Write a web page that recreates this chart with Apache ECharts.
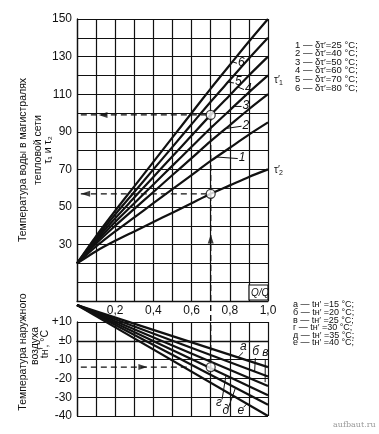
<!DOCTYPE html>
<html><head><meta charset="utf-8">
<script src="https://cdn.jsdelivr.net/npm/echarts@6/dist/echarts.min.js"></script>
<style>html,body{margin:0;padding:0;background:#fff}#c{width:379px;height:434px}</style>
</head><body><div id="c"></div>
<script>
// ---- data ----
const Q = [0, 0.1, 0.2, 0.3, 0.4, 0.5, 0.6, 0.7, 0.8, 0.9, 1.0];
const tau1_1 = [20, 29, 37, 44.5, 52, 59.5, 67, 74.5, 81.5, 88.5, 95];   // δτ'=25
const tau1_2 = [20, 30.5, 40, 49, 58, 67, 76, 85, 93.5, 102, 110];       // δτ'=40
const tau1_3 = [20, 31.5, 42, 52, 62, 72, 82, 92, 101.5, 111, 120];      // δτ'=50
const tau1_4 = [20, 32.5, 44, 55, 66, 77, 88, 99, 109.5, 120, 130];      // δτ'=60
const tau1_5 = [20, 33.5, 46, 58, 70, 82, 94, 106, 117.5, 129, 140];     // δτ'=70
const tau1_6 = [20, 34.5, 48, 61, 74, 87, 100, 113, 125.5, 138, 150];    // δτ'=80
const tau2   = [20, 26.5, 32, 37, 42, 47, 52, 57, 61.5, 66, 70];
const QOut = [0, 1];
const tOut_a = [19, -14];
const tOut_b = [19, -19];
const tOut_v = [19, -24];
const tOut_g = [19, -29];
const tOut_d = [19, -34];
const tOut_e = [19, -40];
// example read-off point
const Qex = 0.7, tau1ex = 99, tau2ex = 57, tOutEx = -14;
const topLegend = [['1','25'],['2','40'],['3','50'],['4','60'],['5','70'],['6','80']];
const botLegend = [['а','15'],['б','20'],['в','25'],['г','30'],['д','35'],['е','40']];
const topTickLabels = [30, 50, 70, 90, 110, 130, 150];

const FONT = 'Liberation Sans, Arial, sans-serif';
const INK = '#111';
const chart = echarts.init(document.getElementById('c'), null, {renderer: 'canvas'});

const gridLine = {show: true, lineStyle: {color: INK, width: 1.2}};
const axisLine = {show: true, lineStyle: {color: INK, width: 1.3}};

function curve(arr) {
  return {type: 'line', xAxisIndex: 0, yAxisIndex: 0, data: Q.map((q, i) => [q, arr[i]]),
    symbol: 'none', smooth: 0.25, lineStyle: {color: INK, width: 2.2}, silent: true, z: 5};
}
function outLine(arr) {
  return {type: 'line', xAxisIndex: 1, yAxisIndex: 1, data: QOut.map((q, i) => [q, arr[i]]),
    symbol: 'none', clip: false, lineStyle: {color: INK, width: 2.2}, silent: true, z: 5};
}
function dashed(xi, pts) {
  return {type: 'line', xAxisIndex: xi, yAxisIndex: xi, data: pts, symbol: 'none', clip: false,
    lineStyle: {color: INK, width: 1.4, type: [6, 4]}, silent: true, z: 6};
}
function arrow(xi, pt, rot) {
  return {type: 'scatter', xAxisIndex: xi, yAxisIndex: xi, data: [pt], symbol: 'triangle',
    symbolSize: [6, 9], symbolRotate: rot, itemStyle: {color: INK}, silent: true, z: 7};
}

const option = {
  animation: false,
  backgroundColor: '#fff',
  grid: [
    {left: 77, right: 111, top: 19, height: 282},
    {left: 77, right: 111, top: 322, height: 94}
  ],
  xAxis: [
    {gridIndex: 0, type: 'value', min: 0, max: 1, interval: 0.1, axisLine, axisTick: {show: false},
      splitLine: gridLine,
      axisLabel: {color: INK, fontSize: 12, fontFamily: FONT, margin: 4,
        formatter: v => { const r = Math.round(v * 10); return (r > 0 && r % 2 === 0) ? (r / 10).toFixed(1).replace('.', ',') : ''; }}},
    {gridIndex: 1, type: 'value', min: 0, max: 1, interval: 0.1, axisLine, axisTick: {show: false},
      splitLine: gridLine, axisLabel: {show: false}}
  ],
  yAxis: [
    {gridIndex: 0, type: 'value', min: 0, max: 150, interval: 10, axisLine, axisTick: {show: false},
      splitLine: gridLine,
      axisLabel: {color: INK, fontSize: 12, fontFamily: FONT, margin: 5,
        formatter: v => topTickLabels.includes(Math.round(v)) ? String(Math.round(v)) : ''}},
    {gridIndex: 1, type: 'value', min: -40, max: 10, interval: 10, axisLine, axisTick: {show: false},
      splitLine: gridLine,
      axisLabel: {color: INK, fontSize: 12, fontFamily: FONT, margin: 5,
        formatter: v => { v = Math.round(v); return v > 0 ? '+' + v : (v === 0 ? '±0' : String(v)); }}}
  ],
  series: [
    curve(tau1_1), curve(tau1_2), curve(tau1_3), curve(tau1_4), curve(tau1_5), curve(tau1_6), curve(tau2),
    outLine(tOut_a), outLine(tOut_b), outLine(tOut_v), outLine(tOut_g), outLine(tOut_d), outLine(tOut_e),
    dashed(0, [[0.02, tau1ex], [Qex, tau1ex]]),
    dashed(0, [[0.02, tau2ex], [Qex, tau2ex]]),
    dashed(0, [[Qex, tau1ex], [Qex, 0]]),
    dashed(1, [[Qex, 19], [Qex, tOutEx]]),
    dashed(1, [[0.02, tOutEx], [0.6, tOutEx]]),
    arrow(0, [0.136, tau1ex], 90),
    arrow(0, [0.045, tau2ex], 90),
    arrow(0, [Qex, 33], 0),
    arrow(1, [0.345, tOutEx], -90),
    {type: 'scatter', xAxisIndex: 0, yAxisIndex: 0, data: [[Qex, tau1ex], [Qex, tau2ex]], symbol: 'circle',
      symbolSize: 9, itemStyle: {color: '#fff', borderColor: INK, borderWidth: 1.3}, silent: true, z: 8},
    {type: 'scatter', xAxisIndex: 1, yAxisIndex: 1, data: [[Qex, tOutEx]], symbol: 'circle',
      symbolSize: 9, itemStyle: {color: '#fff', borderColor: INK, borderWidth: 1.3}, silent: true, z: 8}
  ]
};
chart.setOption(option);

// ---- annotations ----
const g = [];
function txt(x, y, text, opt) {
  g.push(Object.assign({type: 'text', x, y, z: 20, style: Object.assign({text, fill: INK, font: '10px ' + FONT,
    textAlign: 'left', textVerticalAlign: 'middle'}, opt && opt.style || {})}, opt && opt.el || {}));
}
function line(x1, y1, x2, y2, w) {
  g.push({type: 'line', z: 20, shape: {x1, y1, x2, y2}, style: {stroke: INK, lineWidth: w || 1}});
}
const px0 = (q, v) => chart.convertToPixel({gridIndex: 0}, [q, v]);
const px1 = (q, v) => chart.convertToPixel({gridIndex: 1}, [q, v]);

// curve number labels with leader lines: [text, labelQ, labelV, curveQ, curveV]
const topMarks = [
  ['6', 0.848, 127, 0.812, 127.3],
  ['5', 0.832, 116.5, 0.792, 116.4],
  ['4', 0.885, 113, 0.842, 113.8],
  ['3', 0.872, 104, 0.822, 103.5],
  ['2', 0.872, 93.5, 0.782, 91.8],
  ['1', 0.852, 76.3, 0.73, 76.6]
];
topMarks.forEach(m => {
  const p = px0(m[1], m[2]), c = px0(m[3], m[4]);
  line(c[0], c[1], p[0] - 2, p[1] + 1, 1);
  txt(p[0] - 1, p[1], m[0], {style: {font: 'italic 12px ' + FONT, fill: INK}});
});
const botMarks = [
  ['а', 0.853, -3, 0.843, -8.8, 'up'],
  ['б', 0.918, -6, 0.93, -16.3, 'up'],
  ['в', 0.97, -6.5, 0.985, -22, 'up'],
  ['г', 0.728, -32.8, 0.78, -18.4, 'down'],
  ['д', 0.762, -37, 0.83, -25, 'down'],
  ['е', 0.84, -37, 0.89, -33.5, 'down']
];
botMarks.forEach(m => {
  const p = px1(m[1], m[2]), c = px1(m[3], m[4]);
  if (m[5] === 'up') line(p[0] + 3, p[1] + 6, c[0], c[1], 1);
  else line(p[0] + 6, p[1] - 3, c[0], c[1], 1);
  txt(p[0], p[1], m[0], {style: {font: 'italic 12px ' + FONT, fill: INK}});
});

// τ labels on the right
txt(274, 80, 'τ\u2032', {style: {font: '10px ' + FONT}});
txt(279, 83, '1', {style: {font: '7px ' + FONT}});
txt(274, 170, 'τ\u2032', {style: {font: '10px ' + FONT}});
txt(279, 173, '2', {style: {font: '7px ' + FONT}});

// Q/Q box
g.push({type: 'rect', z: 19, shape: {x: 249, y: 285, width: 19, height: 15}, style: {fill: '#fff', stroke: INK, lineWidth: 1.2}});
txt(251, 293, 'Q/Q', {style: {font: 'italic 10px ' + FONT}});

// legends
topLegend.forEach((r, i) => {
  g.push({type: 'text', x: 295, y: 45 + i * 8.6, z: 20, style: {
    text: r[0] + ' — δτ′=' + r[1] + ' °C;', fill: INK, font: '9.5px ' + FONT,
    textVerticalAlign: 'middle'}});
});
botLegend.forEach((r, i) => {
  g.push({type: 'text', x: 293, y: 305 + i * 7.6, z: 20, style: {
    text: r[0] + ' — tн′ =' + r[1] + ' °C;', fill: INK, font: '9px ' + FONT,
    textVerticalAlign: 'middle'}});
});

// axis titles (rotated)
function vtext(x, y, text, size) {
  g.push({type: 'text', x, y, rotation: Math.PI / 2, z: 20, style: {text, fill: INK, font: size + 'px ' + FONT,
    textAlign: 'center', textVerticalAlign: 'middle'}});
}
vtext(23, 160, 'Температура воды в магистралях', 10.5);
vtext(38, 150, 'тепловой сети', 10.5);
vtext(48, 150, 'τ₁ и τ₂', 10.5);
vtext(23, 352, 'Температура наружного', 10.5);
vtext(35, 346, 'воздуха', 10.5);
vtext(45, 344, 'tн′, °С', 10.5);

// watermark
txt(333, 425, 'aufbaut.ru', {style: {font: '8px DejaVu Serif, serif', fill: '#9a9a9a'}});

chart.setOption({graphic: {elements: g}});
</script></body></html>
